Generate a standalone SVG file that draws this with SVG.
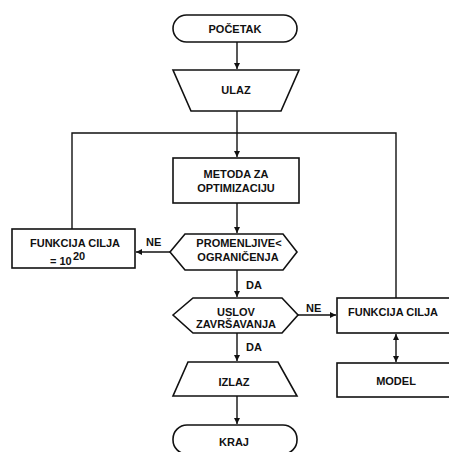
<svg xmlns="http://www.w3.org/2000/svg" width="449" height="452" viewBox="0 0 449 452">
<defs>
<marker id="ah" markerWidth="8" markerHeight="8" refX="6" refY="3" orient="auto" markerUnits="userSpaceOnUse">
<path d="M0,0 L6,3 L0,6 Z" fill="#111"/>
</marker>
<marker id="ahs" markerWidth="8" markerHeight="8" refX="0" refY="3" orient="auto" markerUnits="userSpaceOnUse">
<path d="M6,0 L0,3 L6,6 Z" fill="#111"/>
</marker>
<style>
.s{fill:#fff;stroke:#111;stroke-width:1.6}
.c{fill:none;stroke:#111;stroke-width:1.4}
.t{font-family:"Liberation Sans",Arial,sans-serif;font-weight:bold;font-size:11px;fill:#111;text-anchor:middle}
.l{font-family:"Liberation Sans",Arial,sans-serif;font-weight:bold;font-size:11px;fill:#111}
</style>
</defs>
<rect width="449" height="452" fill="#fff"/>
<g id="connectors">
<path class="c" d="M237,42 V69" marker-end="url(#ah)"/>
<path class="c" d="M237,111 V157" marker-end="url(#ah)"/>
<path class="c" d="M396,298 V133 H72 V229"/>
<path class="c" d="M237,203 V233" marker-end="url(#ah)"/>
<path class="c" d="M170,252 H136" marker-end="url(#ah)"/>
<path class="c" d="M237,270 V297" marker-end="url(#ah)"/>
<path class="c" d="M298,315 H336" marker-end="url(#ah)"/>
<path class="c" d="M396,334 V362" marker-start="url(#ahs)" marker-end="url(#ah)"/>
<path class="c" d="M237,333 V361" marker-end="url(#ah)"/>
<path class="c" d="M237,396 V424" marker-end="url(#ah)"/>
<text class="l" x="146" y="246">NE</text>
<text class="l" x="246" y="289">DA</text>
<text class="l" x="306" y="312">NE</text>
<text class="l" x="246" y="351">DA</text>
</g>
<g id="pocetak">
<rect class="s" x="173" y="15" width="124" height="27" rx="13.5"/>
<text class="t" x="235" y="33">POČETAK</text>
</g>
<g id="ulaz">
<polygon class="s" points="173,70 299,70 281,111 191,111"/>
<text class="t" x="236" y="94">ULAZ</text>
</g>
<g id="metoda">
<rect class="s" x="173" y="158" width="126" height="45"/>
<text class="t" x="236" y="178">METODA ZA</text>
<text class="t" x="236" y="192">OPTIMIZACIJU</text>
</g>
<g id="funkcija-penal">
<rect class="s" x="12" y="229" width="123" height="39"/>
<text class="t" x="75" y="247">FUNKCIJA CILJA</text>
<text class="l" x="50" y="265">= 10</text>
<text class="l" x="73" y="260" font-size="9.5">20</text>
</g>
<g id="promenljive">
<polygon class="s" points="170,252 185,234 283,234 297,252 283,270 185,270"/>
<text class="t" x="239" y="247">PROMENLJIVE&lt;</text>
<text class="t" x="238" y="261">OGRANIČENJA</text>
</g>
<g id="uslov">
<polygon class="s" points="173,315 193,298 282,298 298,315 282,333 193,333"/>
<text class="t" x="236" y="316">USLOV</text>
<text class="t" x="236" y="328">ZAVRŠAVANJA</text>
</g>
<g id="funkcija-cilja">
<rect class="s" x="337" y="298" width="120" height="35"/>
<text class="t" x="393" y="316">FUNKCIJA CILJA</text>
</g>
<g id="model">
<rect class="s" x="337" y="363" width="120" height="34"/>
<text class="t" x="396" y="385">MODEL</text>
</g>
<g id="izlaz">
<polygon class="s" points="188,362 278,362 297,396 173,396"/>
<text class="t" x="234" y="386">IZLAZ</text>
</g>
<g id="kraj">
<rect class="s" x="173" y="425" width="124" height="29" rx="14"/>
<text class="t" x="234" y="446">KRAJ</text>
</g>
</svg>
